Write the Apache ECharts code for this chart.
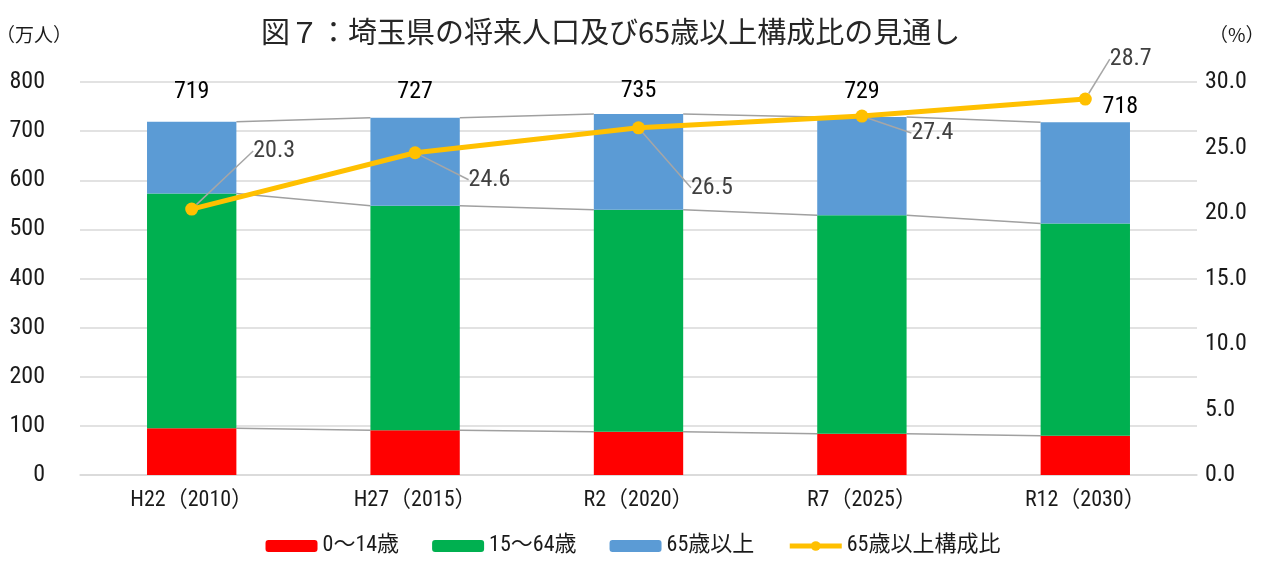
<!DOCTYPE html>
<html><head><meta charset="utf-8">
<script src="https://cdn.jsdelivr.net/npm/echarts@6/dist/echarts.min.js"></script>
<style>html,body{margin:0;padding:0;background:#fff}#c{width:1266px;height:563px}</style>
</head><body><div id="c"></div>
<script>
const categories = ['H22（2010）', 'H27（2015）', 'R2（2020）', 'R7（2025）', 'R12（2030）'];
const age0to14 = [95, 91, 88, 84, 80];
const age15to64 = [478, 457, 452, 445, 432];
const age65plus = [146, 179, 195, 200, 206];
const totals = [719, 727, 735, 729, 718];
const ratio65 = [20.3, 24.6, 26.5, 27.4, 28.7];
const seriesNames = ['0～14歳', '15～64歳', '65歳以上', '65歳以上構成比'];

// label offsets (style)
const ratioLabelOffsets = [[50, -58], [42, 27], [41, 60], [38, 17], [13, -40]];
const totalLabelOffsets = [[0, -13], [0, -9], [0, -6], [0, -8], [35, 2]];

const FONT = "'Liberation Sans Narrow', 'Roboto Condensed', 'DejaVu Sans Condensed', 'Noto Sans CJK JP', sans-serif";
const TFONT = "'Noto Sans CJK JP', sans-serif";
const BAR_W = 0.4;

// cumulative stack tops for series lines
const lvl1 = age0to14.slice();
const lvl2 = age0to14.map((v, i) => v + age15to64[i]);
const lvl3 = lvl2.map((v, i) => v + age65plus[i]);
const connData = [];
for (let i = 0; i < categories.length - 1; i++) {
  connData.push([i, lvl1[i], lvl1[i + 1], lvl2[i], lvl2[i + 1], lvl3[i], lvl3[i + 1]]);
}

const chart = echarts.init(document.getElementById('c'));
chart.setOption({
  animation: false,
  textStyle: { fontFamily: FONT },
  title: {
    text: '図７：埼玉県の将来人口及び65歳以上構成比の見通し',
    left: 256, top: 12,
    textStyle: { fontFamily: TFONT, fontSize: 29, fontWeight: 'normal', color: '#262626' }
  },
  legend: {
    data: [
      { name: seriesNames[0] }, { name: seriesNames[1] }, { name: seriesNames[2] },
      { name: seriesNames[3], lineStyle: { width: 5, color: '#FFC000' } }
    ],
    bottom: 1, left: 'center',
    itemWidth: 52, itemHeight: 12, itemGap: 33,
    textStyle: { fontFamily: FONT, fontSize: 22, color: '#1a1a1a' }
  },
  grid: { left: 80, right: 69, top: 82, bottom: 88, outerBoundsMode: 'none', containLabel: false },
  xAxis: {
    type: 'category', data: categories,
    axisLine: { lineStyle: { color: '#D9D9D9', width: 1.5 } },
    axisTick: { show: false },
    axisLabel: { fontFamily: FONT, fontSize: 22, color: '#1a1a1a', margin: 14 }
  },
  yAxis: [{
    type: 'value', min: 0, max: 800, interval: 100,
    name: '（万人）', nameLocation: 'end', nameGap: 38,
    nameTextStyle: { fontFamily: TFONT, fontSize: 19, color: '#1a1a1a', align: 'right', padding: [0, 8, 0, 0] },
    axisLine: { show: false }, axisTick: { show: false },
    splitLine: { lineStyle: { color: '#D9D9D9', width: 1.5 } },
    axisLabel: { fontFamily: FONT, fontSize: 24, color: '#1a1a1a', margin: 35 }
  }, {
    type: 'value', min: 0, max: 30, interval: 5,
    name: '（%）', nameLocation: 'end', nameGap: 38,
    nameTextStyle: { fontFamily: TFONT, fontSize: 19, color: '#1a1a1a', align: 'left', padding: [0, 0, 0, 12] },
    axisLine: { show: false }, axisTick: { show: false },
    splitLine: { show: false },
    axisLabel: { fontFamily: FONT, fontSize: 24, color: '#1a1a1a', margin: 8, formatter: v => v.toFixed(1) }
  }],
  series: [
    {
      name: seriesNames[0], type: 'bar', stack: 'pop', barWidth: (BAR_W * 100) + '%',
      itemStyle: { color: '#FF0000' }, data: age0to14
    },
    {
      name: seriesNames[1], type: 'bar', stack: 'pop',
      itemStyle: { color: '#00B050' }, data: age15to64
    },
    {
      name: seriesNames[2], type: 'bar', stack: 'pop',
      itemStyle: { color: '#5B9BD5' }, data: age65plus,
      label: {
        show: true, position: 'top', distance: 5,
        fontFamily: FONT, fontSize: 24, color: '#000',
        formatter: p => String(totals[p.dataIndex])
      },
      labelLayout: p => ({ dx: totalLabelOffsets[p.dataIndex][0], dy: totalLabelOffsets[p.dataIndex][1] })
    },
    {
      type: 'custom', name: 'serieslines', silent: true, z: 1,
      data: connData, encode: { x: 0, y: 1 },
      renderItem: function (params, api) {
        const i = api.value(0);
        const hw = api.size([1, 0])[0] * BAR_W / 2;
        const children = [];
        for (let k = 0; k < 3; k++) {
          const a = api.coord([i, api.value(1 + 2 * k)]);
          const b = api.coord([i + 1, api.value(2 + 2 * k)]);
          children.push({
            type: 'line',
            shape: { x1: a[0] + hw, y1: a[1], x2: b[0] - hw, y2: b[1] },
            style: { stroke: '#A0A0A0', lineWidth: 1.5 }
          });
        }
        return { type: 'group', children: children };
      }
    },
    {
      name: seriesNames[3], type: 'line', yAxisIndex: 1, z: 5,
      data: ratio65,
      symbol: 'circle', symbolSize: 13,
      lineStyle: { color: '#FFC000', width: 5 },
      itemStyle: { color: '#FFC000' },
      label: {
        show: true, position: 'right', distance: 5,
        fontFamily: FONT, fontSize: 24, color: '#404040',
        formatter: p => p.value.toFixed(1)
      },
      labelLine: { show: true, lineStyle: { color: '#A6A6A6', width: 1.5 } },
      labelLayout: p => ({ dx: ratioLabelOffsets[p.dataIndex][0], dy: ratioLabelOffsets[p.dataIndex][1] })
    }
  ]
});
</script></body></html>
